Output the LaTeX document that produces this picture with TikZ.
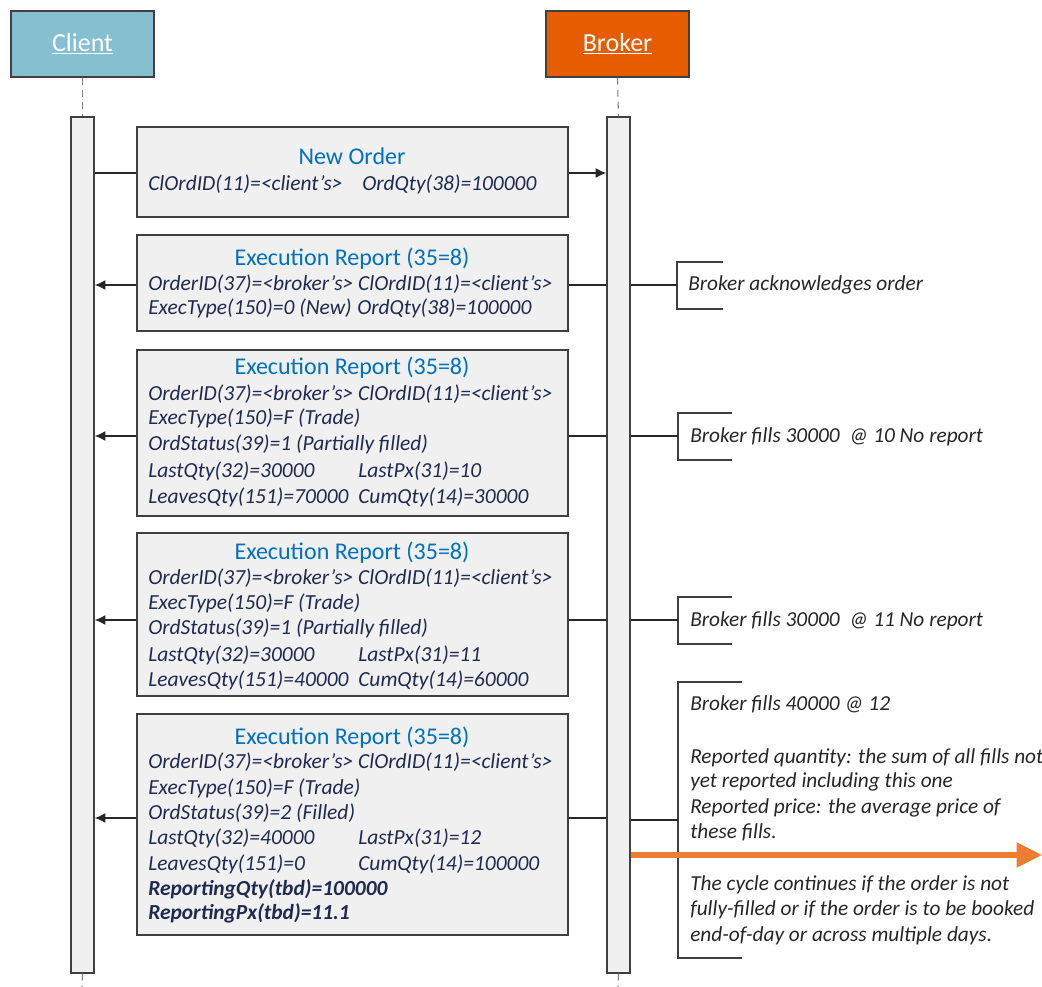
\documentclass[tikz,border=0pt]{standalone}
\usepackage{fontspec}
\setmainfont{Carlito}
\usetikzlibrary{fit,arrows.meta}
\definecolor{clientc}{HTML}{86BFD0}
\definecolor{brokerc}{HTML}{E65C00}
\definecolor{boxfill}{HTML}{F0F0F0}
\definecolor{titlec}{HTML}{0070C0}
\definecolor{bodyc}{HTML}{1F2A4F}
\definecolor{notec}{HTML}{262626}
\definecolor{edgec}{HTML}{404040}
\definecolor{lifec}{HTML}{808080}
\definecolor{orangec}{HTML}{ED7D31}
\begin{document}
\begin{tikzpicture}[x=0.75pt,y=-0.75pt,
  head/.style={draw=edgec,line width=1.5pt,inner sep=0},
  headtext/.style={text=white,font=\fontsize{19.5}{22}\selectfont,inner sep=0},
  bar/.style={draw=edgec,fill=boxfill,line width=1.1pt,inner sep=0},
  msgbox/.style={draw=edgec,fill=boxfill,line width=1.3pt,inner sep=0},
  ttl/.style={text=titlec,font=\fontsize{18}{20}\selectfont,inner sep=0,anchor=base},
  body/.style={text=bodyc,font=\fontsize{16.1}{18}\selectfont\itshape,inner sep=0,anchor=base west},
  bodyb/.style={body,font=\fontsize{16.1}{18}\selectfont\itshape\bfseries},
  note/.style={text=notec,font=\fontsize{16}{18}\selectfont\itshape,inner sep=0,anchor=base west},
  conn/.style={draw=black!85,line width=1.1pt},
  arr/.style={-{Latex[length=8pt,width=7.5pt]}},
  bracket/.style={draw=edgec,line width=1.1pt},
  life/.style={draw=lifec,line width=0.8pt,dash pattern=on 5pt off 4pt}]
\useasboundingbox (0,0) rectangle (1042,987);

% headers
\node[head,fill=clientc,fit={(11,11)(154,77)}] (client) {};
\node[head,fill=brokerc,fit={(546,11)(689,77)}] (broker) {};
\node[headtext] (clientlbl) at (client.center) {\underline{Client}};
\node[headtext] (brokerlbl) at (broker.center) {\underline{Broker}};

% activation bars
\node[bar,fit={(71,117)(94,973)}] (cbar) {};
\node[bar,fit={(607,117)(630,973)}] (bbar) {};
\coordinate (cend) at (82,987);
\coordinate (bend) at (618,987);
\draw[life] (client.south) -- (cbar.north);
\draw[life] (broker.south) -- (bbar.north);
\draw[life] (cbar.south) -- (cend);
\draw[life] (bbar.south) -- (bend);

% message boxes
\node[msgbox,fit={(137,127)(568,217)}] (m1) {};
\node[msgbox,fit={(137,235)(568,331)}] (m2) {};
\node[msgbox,fit={(137,350)(568,516)}] (m3) {};
\node[msgbox,fit={(137,533)(568,696)}] (m4) {};
\node[msgbox,fit={(137,714)(568,935)}] (m5) {};

% box 1
\node[ttl] (t1) at (352,165) {New Order};
\node[body] (a1) at (148,191) {ClOrdID(11)=<client’s>};
\node[body] (b1) at (362,191) {OrdQty(38)=100000};

% box 2
\node[ttl] (t2) at (352,266) {Execution Report (35=8)};
\node[body] (a2) at (148,291) {OrderID(37)=<broker’s> ClOrdID(11)=<client’s>};
\node[body] (c2) at (148,315) {ExecType(150)=0 (New)};
\node[body] (d2) at (357,315) {OrdQty(38)=100000};

% box 3
\node[ttl] (t3) at (352,375) {Execution Report (35=8)};
\node[body] (a3) at (148,401) {OrderID(37)=<broker’s> ClOrdID(11)=<client’s>};
\node[body] (c3) at (148,425) {ExecType(150)=F (Trade)};
\node[body] (e3) at (148,450) {OrdStatus(39)=1 (Partially filled)};
\node[body] (f3) at (148,477) {LastQty(32)=30000};
\node[body] (g3) at (358,477) {LastPx(31)=10};
\node[body] (h3) at (148,503) {LeavesQty(151)=70000};
\node[body] (i3) at (358,503) {CumQty(14)=30000};

% box 4
\node[ttl] (t4) at (352,559) {Execution Report (35=8)};
\node[body] (a4) at (148,584) {OrderID(37)=<broker’s> ClOrdID(11)=<client’s>};
\node[body] (c4) at (148,609) {ExecType(150)=F (Trade)};
\node[body] (e4) at (148,634) {OrdStatus(39)=1 (Partially filled)};
\node[body] (f4) at (148,661) {LastQty(32)=30000};
\node[body] (g4) at (358,661) {LastPx(31)=11};
\node[body] (h4) at (148,686) {LeavesQty(151)=40000};
\node[body] (i4) at (358,686) {CumQty(14)=60000};

% box 5
\node[ttl] (t5) at (352,744) {Execution Report (35=8)};
\node[body] (a5) at (148,768) {OrderID(37)=<broker’s> ClOrdID(11)=<client’s>};
\node[body] (c5) at (148,794) {ExecType(150)=F (Trade)};
\node[body] (e5) at (148,819) {OrdStatus(39)=2 (Filled)};
\node[body] (f5) at (148,844) {LastQty(32)=40000};
\node[body] (g5) at (358,844) {LastPx(31)=12};
\node[body] (h5) at (148,870) {LeavesQty(151)=0};
\node[body] (i5) at (358,870) {CumQty(14)=100000};
\node[bodyb] (j5) at (148,895) {ReportingQty(tbd)=100000};
\node[bodyb] (k5) at (148,919) {ReportingPx(tbd)=11.1};

% connectors
\draw[conn] (cbar.east |- 0,173) -- (m1.west |- 0,173);
\draw[conn,arr] (m1.east |- 0,173) -- (bbar.west |- 0,173);

\draw[conn] (bbar.west |- 0,285) -- (m2.east |- 0,285);
\draw[conn,arr] (m2.west |- 0,285) -- (cbar.east |- 0,285);
\draw[conn] (bbar.west |- 0,436) -- (m3.east |- 0,436);
\draw[conn,arr] (m3.west |- 0,436) -- (cbar.east |- 0,436);
\draw[conn] (bbar.west |- 0,620) -- (m4.east |- 0,620);
\draw[conn,arr] (m4.west |- 0,620) -- (cbar.east |- 0,620);
\draw[conn] (bbar.west |- 0,818) -- (m5.east |- 0,818);
\draw[conn,arr] (m5.west |- 0,818) -- (cbar.east |- 0,818);

% note brackets
\coordinate (k2) at (677,285);
\coordinate (k3) at (678,436);
\coordinate (k4) at (678,620);
\coordinate (k5) at (678,820);
\draw[bracket] (723,262) -- (677,262) -- (677,309) -- (723,309);
\draw[bracket] (732,413) -- (678,413) -- (678,460) -- (732,460);
\draw[bracket] (732,597) -- (678,597) -- (678,644) -- (732,644);
\draw[bracket] (742,682) -- (678,682) -- (678,958) -- (742,958);
\draw[conn] (bbar.east |- k2) -- (k2);
\draw[conn] (bbar.east |- k3) -- (k3);
\draw[conn] (bbar.east |- k4) -- (k4);
\draw[conn] (bbar.east |- k5) -- (k5);

% notes
\node[note] (n2) at (688,291) {Broker acknowledges order};
\node[note] (n3) at (690,442) {Broker fills 30000\ \ @ 10 No report};
\node[note] (n4) at (690,626) {Broker fills 30000\ \ @ 11 No report};
\node[note] (n5a) at (690,710) {Broker fills 40000 @ 12};
\node[note] (n5b) at (690,763) {Reported quantity: the sum of all fills not};
\node[note] (n5c) at (690,787) {yet reported including this one};
\node[note] (n5d) at (690,813) {Reported price: the average price of};
\node[note] (n5e) at (690,838) {these fills.};
\node[note] (n5f) at (690,890) {The cycle continues if the order is not};
\node[note] (n5g) at (690,915) {fully-filled or if the order is to be booked};
\node[note] (n5h) at (690,941) {end-of-day or across multiple days.};

% continuation arrow
\coordinate (cont) at (1042,855);
\draw[orangec,line width=3.8pt,-{Triangle[length=19pt,width=18pt]}] (bbar.east |- cont) -- (cont);
\end{tikzpicture}
\end{document}
